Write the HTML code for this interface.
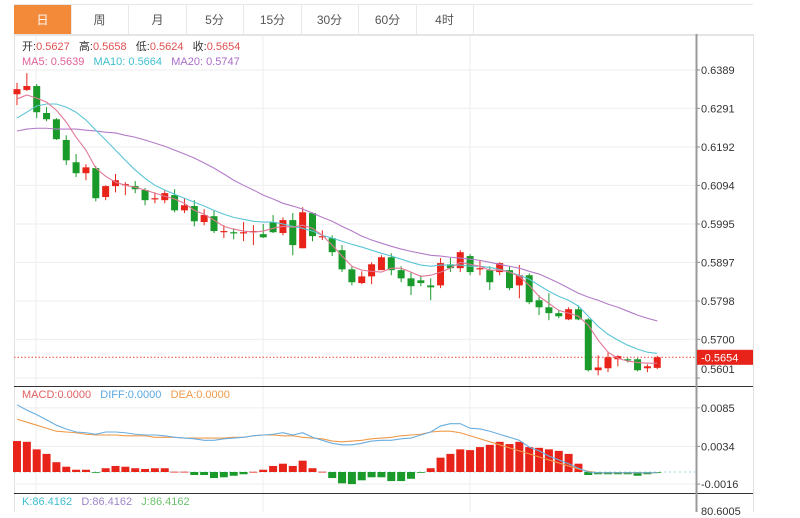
<!DOCTYPE html>
<html><head><meta charset="utf-8">
<style>
html,body{margin:0;padding:0;background:#fff;width:800px;height:512px;overflow:hidden;font-family:"Liberation Sans","Noto Sans CJK SC",sans-serif;}
#tabs{position:absolute;left:14px;top:4px;height:30px;width:739px;border-top:1px solid #e6e6e6;border-bottom:1px solid #e6e6e6;}
.tab{position:absolute;top:0;height:30px;width:57px;line-height:30px;text-align:center;font-size:12px;color:#555;border-right:1px solid #e8e8e8;}
.tab.on{background:#f28a3a;color:#fff;}
svg{position:absolute;left:0;top:0;}
</style></head><body>
<div id="tabs">
<div class="tab on" style="left:0">日</div>
<div class="tab" style="left:57px">周</div>
<div class="tab" style="left:115px">月</div>
<div class="tab" style="left:172px">5分</div>
<div class="tab" style="left:230px">15分</div>
<div class="tab" style="left:287px">30分</div>
<div class="tab" style="left:345px">60分</div>
<div class="tab" style="left:402px">4时</div>
</div>
<svg id="chart" width="800" height="512"></svg>
<script>
const opens=[.6327,.6338,.6348,.6279,.6263,.6210,.6153,.6125,.6138,.6064,.6092,.6094,.6092,.6082,.6059,.6056,.6069,.6030,.6041,.6000,.6015,.5974,.5974,.5972,.5974,.5969,.6000,.5972,.6005,.5933,.6023,.5961,.5959,.5928,.5879,.5844,.5861,.5877,.5910,.5877,.5856,.5851,.5838,.5838,.5892,.5882,.5913,.5879,.5877,.5872,.5877,.5838,.5864,.5800,.5782,.5767,.5751,.5777,.5751,.5621,.5626,.5649,.5649,.5649,.5626,.5627];
const closes=[.6340,.6348,.6281,.6263,.6212,.6158,.6125,.6140,.6061,.6092,.6107,.6097,.6084,.6056,.6061,.6074,.6030,.6043,.6002,.6018,.5977,.5977,.5972,.5974,.5977,.5961,.5974,.6005,.5941,.6025,.5964,.5964,.5923,.5879,.5846,.5861,.5892,.5910,.5877,.5856,.5836,.5844,.5833,.5895,.5882,.5923,.5872,.5882,.5846,.5895,.5831,.5864,.5795,.5782,.5767,.5759,.5777,.5751,.5621,.5628,.5654,.5657,.5646,.5621,.5631,.5654];
const highs=[.6356,.6381,.6353,.6294,.6266,.6222,.6174,.6148,.6143,.6094,.6123,.6102,.6105,.6087,.6076,.6082,.6084,.6061,.6056,.6033,.6030,.5992,.5984,.6000,.5992,.5995,.6018,.6012,.6023,.6038,.6025,.5979,.5966,.5941,.5887,.5874,.5897,.5915,.5920,.5887,.5872,.5864,.5856,.5908,.5908,.5928,.5918,.5902,.5887,.5897,.5887,.5890,.5869,.5813,.5818,.5774,.5782,.5787,.5754,.5659,.5669,.5659,.5652,.5652,.5636,.5658];
const lows=[.6299,.6335,.6266,.6258,.6210,.6146,.6115,.6107,.6053,.6056,.6076,.6069,.6074,.6043,.6048,.6048,.6025,.6023,.5989,.5992,.5972,.5959,.5956,.5951,.5941,.5959,.5972,.5966,.5915,.5933,.5951,.5954,.5913,.5872,.5838,.5841,.5841,.5877,.5864,.5846,.5813,.5836,.5800,.5831,.5872,.5872,.5864,.5864,.5826,.5864,.5826,.5805,.5790,.5762,.5749,.5754,.5749,.5749,.5618,.5608,.5616,.5631,.5641,.5618,.5616,.5624];
const ma5=[.6315,.6325,.6317,.6307,.6286,.6256,.6217,.6184,.6138,.6117,.6102,.6094,.6089,.6082,.6074,.6066,.6059,.6048,.6030,.6020,.6005,.5989,.5982,.5977,.5974,.5977,.5984,.5989,.5987,.5992,.5984,.5966,.5941,.5913,.5887,.5877,.5874,.5872,.5882,.5882,.5872,.5861,.5864,.5872,.5882,.5897,.5892,.5887,.5877,.5877,.5872,.5861,.5838,.5810,.5792,.5774,.5767,.5759,.5736,.5698,.5667,.5652,.5644,.5641,.5639,.5639];
const ma10=[.6266,.6281,.6297,.6302,.6302,.6294,.6281,.6261,.6235,.6210,.6184,.6158,.6133,.6112,.6094,.6082,.6071,.6061,.6051,.6041,.6030,.6020,.6012,.6007,.6002,.6000,.6000,.5995,.5989,.5984,.5977,.5966,.5959,.5951,.5943,.5936,.5928,.5920,.5913,.5905,.5897,.5890,.5887,.5890,.5890,.5890,.5887,.5887,.5884,.5879,.5872,.5864,.5854,.5838,.5823,.5810,.5800,.5785,.5759,.5733,.5713,.5698,.5685,.5675,.5667,.5664];
const ma20=[.6233,.6238,.6240,.6240,.6238,.6238,.6238,.6235,.6233,.6230,.6228,.6222,.6217,.6210,.6202,.6194,.6184,.6174,.6164,.6151,.6138,.6123,.6107,.6094,.6082,.6069,.6059,.6048,.6041,.6033,.6023,.6012,.6002,.5989,.5977,.5964,.5954,.5946,.5938,.5931,.5925,.5920,.5915,.5913,.5910,.5908,.5905,.5902,.5897,.5892,.5887,.5882,.5874,.5867,.5856,.5844,.5831,.5818,.5808,.5800,.5790,.5782,.5772,.5762,.5754,.5747];
const macdHist=[.0041,.0040,.0030,.0024,.0013,.0007,.0003,.0003,-.0001,.0005,.0008,.0007,.0005,.0004,.0005,.0005,.00004,.00004,-.0004,-.0004,-.0008,-.0007,-.0005,-.0003,.00003,.0003,.0008,.0011,.0008,.0015,.0005,.00004,-.0008,-.0015,-.0016,-.0011,-.0007,-.0007,-.0012,-.0012,-.0009,-.0001,.0005,.0019,.0024,.0030,.0029,.0033,.0036,.0040,.0037,.0040,.0033,.0032,.0030,.0028,.0024,.0011,-.0004,-.0003,-.0003,-.0003,-.0003,-.0005,-.0003,-.0001];
const diff=[.0089,.0082,.0076,.0069,.0062,.0057,.0053,.0052,.0050,.0053,.0053,.0052,.0050,.0049,.0049,.0048,.0046,.0045,.0044,.0042,.0042,.0044,.0045,.0046,.0048,.0049,.0050,.0052,.0049,.0052,.0046,.0042,.0038,.0036,.0036,.0038,.0041,.0042,.0042,.0044,.0045,.0049,.0053,.0061,.0064,.0064,.0058,.0057,.0054,.0050,.0046,.0042,.0033,.0028,.0021,.0016,.0011,.0005,.0000,-.0001,-.0001,-.0001,-.0001,-.0001,-.0001,-.0001];
const dea=[.0070,.0066,.0062,.0058,.0054,.0053,.0052,.0050,.0049,.0049,.0049,.0048,.0048,.0048,.0046,.0046,.0046,.0045,.0045,.0045,.0045,.0045,.0046,.0046,.0048,.0049,.0049,.0048,.0048,.0046,.0045,.0044,.0041,.0040,.0041,.0042,.0044,.0045,.0046,.0048,.0049,.0050,.0053,.0054,.0054,.0052,.0048,.0044,.0040,.0036,.0032,.0028,.0024,.0020,.0016,.0012,.0008,.0004,.0001,-.0001,-.0001,-.0001,-.0001,-.0001,-.0001,-.0001];
const priceTicks=["0.6389","0.6291","0.6192","0.6094","0.5995","0.5897","0.5798","0.5700","0.5601"];
const macdTicks=["0.0085","0.0034","-0.0016"];
const lastPrice=0.5654;

const svg=document.getElementById('chart');
const NS='http://www.w3.org/2000/svg';
function mk(tag,attrs,parent){const e=document.createElementNS(NS,tag);for(const k in attrs)e.setAttribute(k,attrs[k]);(parent||svg).appendChild(e);return e;}
const X=i=>17+i*9.85;
const PY=p=>70+(0.6389-p)*3909;
const MY=v=>472-v*7549;

// frame
let f=mk('rect',{x:14.5,y:34.5,width:739,height:480,fill:'none',stroke:'#e3e3e3'});

[36,263,470].forEach(x=>{const g=mk('line',{x1:x,x2:x,y1:35,y2:512,stroke:'#eeeeee'});
});
priceTicks.forEach(t=>{const y=PY(parseFloat(t));
const g=mk('line',{x1:14,x2:696,y1:y,y2:y,stroke:'#eeeeee'});

mk('line',{x1:696,x2:700,y1:y,y2:y,stroke:'#888'});
const ly=Math.min(y+4,373);
const tx=mk('text',{x:701,y:ly,'font-size':11,fill:'#333'});tx.textContent=t;
});
macdTicks.forEach(t=>{const y=MY(parseFloat(t));
const g=mk('line',{x1:14,x2:696,y1:y,y2:y,stroke:'#eeeeee'});

mk('line',{x1:696,x2:700,y1:y,y2:y,stroke:'#888'});
const tx=mk('text',{x:701,y:y+4,'font-size':11,fill:'#333'});tx.textContent=t;
});
// separators & axis
let s1=mk('line',{x1:14,x2:753,y1:386.5,y2:386.5,stroke:'#333'});
let s2=mk('line',{x1:14,x2:753,y1:493.5,y2:493.5,stroke:'#333'});
let ax=mk('line',{x1:696.5,x2:696.5,y1:34,y2:512,stroke:'#999','stroke-width':2});
// last price line
const lpy=PY(lastPrice);
let lp=mk('line',{x1:14,x2:696,y1:lpy,y2:lpy,stroke:'#e8443a','stroke-dasharray':'1.5,2'});
let lb=mk('rect',{x:697,y:lpy-7.5,width:56,height:15,fill:'#e8231a'});
let lt=mk('text',{x:701,y:lpy+4,'font-size':11,fill:'#fff'});lt.textContent='-'+lastPrice.toFixed(4);
// candles
opens.forEach((o,i)=>{const c=closes[i];const up=c>=o;const col=up?'#e8231a':'#1a9a2a';const x=X(i);
const g=mk('g',{});
mk('line',{x1:x,x2:x,y1:PY(highs[i]),y2:PY(lows[i]),stroke:col,'stroke-width':1},g);
const t=PY(Math.max(o,c)),b=PY(Math.min(o,c));
mk('rect',{x:x-3.5,y:t,width:7,height:Math.max(b-t,1.2),fill:col},g);});
function line(arr,fy,col,name){const p=mk('polyline',{points:arr.map((v,i)=>X(i)+','+fy(v)).join(' '),fill:'none',stroke:col,'stroke-width':1.1});
}
line(ma20,PY,'#b47cc9','ma20-line');line(ma10,PY,'#5cc6d6','ma10-line');line(ma5,PY,'#e07896','ma5-line');
// macd
let zl=mk('line',{x1:14,x2:696,y1:MY(0),y2:MY(0),stroke:'#9cd4e0','stroke-dasharray':'2,3'});
macdHist.forEach((v,i)=>{const y0=MY(0),y1=MY(v);
const r=mk('rect',{x:X(i)-4,y:Math.min(y0,y1),width:8,height:Math.max(Math.abs(y1-y0),0.8),fill:v>=0?'#e8231a':'#1a9a2a'});
});
line(dea,MY,'#ee9a4a','dea-line');line(diff,MY,'#6aaee0','diff-line');
</script>
<div style="position:absolute;left:22px;top:40px;font-size:11px;line-height:15px;color:#333;white-space:nowrap;">
<div>开:<span style="color:#e05050">0.5627</span>&nbsp;&nbsp; 高:<span style="color:#e05050">0.5658</span>&nbsp;&nbsp; 低:<span style="color:#e05050">0.5624</span>&nbsp;&nbsp; 收:<span style="color:#e05050">0.5654</span></div>
<div><span style="color:#e0609a">MA5: 0.5639</span>&nbsp;&nbsp; <span style="color:#3fbfcf">MA10: 0.5664</span>&nbsp;&nbsp; <span style="color:#a86cc8">MA20: 0.5747</span></div>
</div>
<div style="position:absolute;left:22px;top:389px;font-size:11px;white-space:nowrap;">
<span style="color:#e06060">MACD:0.0000</span>&nbsp;&nbsp; <span style="color:#5ba8e0">DIFF:0.0000</span>&nbsp;&nbsp; <span style="color:#ee9a4a">DEA:0.0000</span></div>
<div style="position:absolute;left:22px;top:496px;font-size:11px;white-space:nowrap;">
<span style="color:#3fbfcf">K:86.4162</span>&nbsp;&nbsp; <span style="color:#a086c8">D:86.4162</span>&nbsp;&nbsp; <span style="color:#6cc06c">J:86.4162</span></div>
<div style="position:absolute;left:701px;top:506px;font-size:11px;color:#333;">80.6005</div>
</body></html>
